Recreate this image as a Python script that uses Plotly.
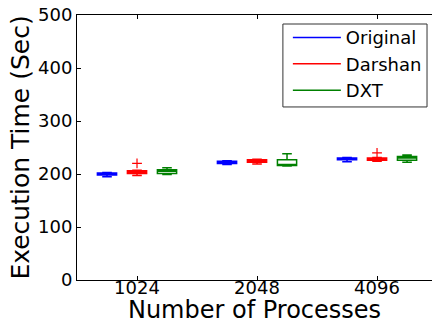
import plotly.graph_objects as go

categories = ["1024", "2048", "4096"]
series_names = ["Original", "Darshan", "DXT"]
series_colors = ["#0000ff", "#ff0000", "#008000"]

# 9 runs per configuration (seconds)
original_runs = {
    "1024": [195, 197, 198, 199, 200, 201, 202, 203, 203],
    "2048": [218, 219, 220, 221, 222, 223, 224, 224, 225],
    "4096": [223, 226, 227, 228, 229, 229, 230, 230, 231],
}
darshan_runs = {
    "1024": [197, 199, 201, 203, 204, 205, 206, 207, 220],
    "2048": [219, 221, 222, 224, 225, 226, 227, 228, 228],
    "4096": [224, 225, 226, 227, 228, 229, 230, 231, 240],
}
dxt_runs = {
    "1024": [199, 200, 201, 203, 205, 206, 208, 210, 212],
    "2048": [215, 215, 216, 217, 218, 222, 227, 233, 238],
    "4096": [222, 224, 226, 228, 230, 231, 233, 235, 236],
}
y_ticks = [0, 100, 200, 300, 400, 500]

FONT = "DejaVu Sans"
fig = go.Figure()
for name, color, runs in zip(series_names, series_colors,
                             [original_runs, darshan_runs, dxt_runs]):
    xs, ys = [], []
    for c in categories:
        xs += [c] * len(runs[c])
        ys += runs[c]
    fig.add_trace(go.Box(
        x=xs, y=ys, name=name, showlegend=False, offsetgroup=name,
        quartilemethod="inclusive", boxpoints="outliers",
        fillcolor="rgba(255,255,255,0)",
        line=dict(color=color, width=1.5), whiskerwidth=0.5,
        marker=dict(symbol="cross-thin", size=7, color=color,
                    line=dict(color=color, width=1.2)),
    ))
    fig.add_trace(go.Scatter(
        x=[None], y=[None], mode="lines", name=name,
        line=dict(color=color, width=1.5), showlegend=True,
    ))

# legend frame
fig.add_shape(type="rect", xref="paper", yref="paper",
              x0=0.580, x1=0.986, y0=0.653, y1=0.966,
              line=dict(color="#333333", width=1), fillcolor="white",
              layer="below")

fig.update_layout(
    width=432, height=324,
    margin=dict(l=77, r=0, t=15, b=44, autoexpand=False),
    paper_bgcolor="white", plot_bgcolor="white",
    boxmode="group", boxgap=0.25, boxgroupgap=0.36,
    font=dict(family=FONT, color="black", size=18),
    legend=dict(
        x=0.594, y=0.984, xanchor="left", yanchor="top",
        borderwidth=0, bgcolor="rgba(0,0,0,0)",
        font=dict(family=FONT, size=18), tracegroupgap=0,
        itemwidth=48,
    ),
    xaxis=dict(
        type="category", categoryorder="array", categoryarray=categories,
        range=[-0.5, 2.458], showline=True, linecolor="black", linewidth=1,
        mirror="ticks", ticks="inside", ticklen=4, tickcolor="black",
        showgrid=False, zeroline=False, automargin=False,
        tickfont=dict(family=FONT, size=18), ticklabelstandoff=-9,
        title=dict(text="Number of Processes", font=dict(family=FONT, size=24),
                   standoff=2),
    ),
    yaxis=dict(
        range=[0, 500], tickvals=y_ticks, showline=True, linecolor="black",
        linewidth=1, ticks="inside", ticklen=4, tickcolor="black",
        showgrid=False, zeroline=False, automargin=False,
        tickfont=dict(family=FONT, size=18),
        title=dict(text="Execution Time (Sec)", font=dict(family=FONT, size=25),
                   standoff=1),
    ),
)

fig.write_html("out.html", config={"displayModeBar": False},
               post_script="document.body.style.margin='0px';")
